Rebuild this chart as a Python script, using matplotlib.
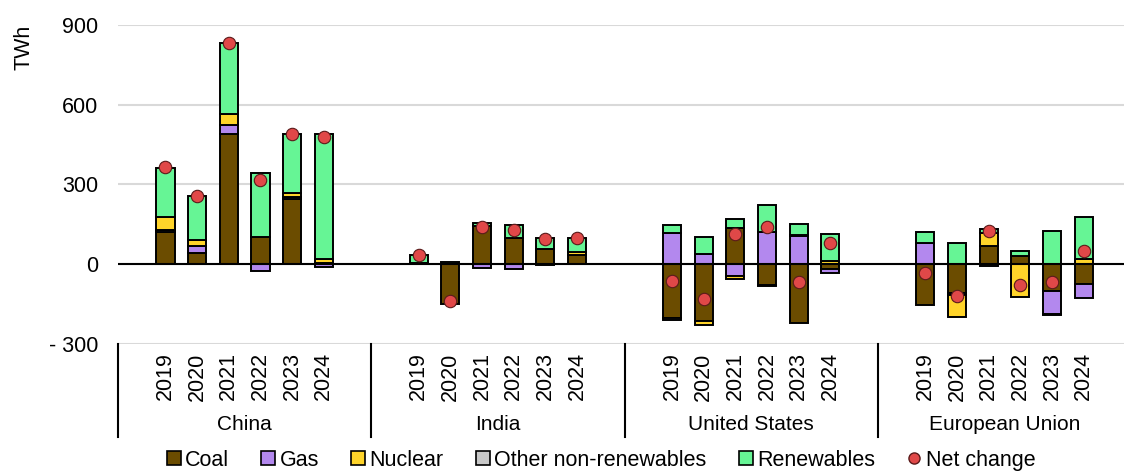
import matplotlib
matplotlib.use("Agg")
import matplotlib.pyplot as plt
import matplotlib.transforms as mtransforms
from matplotlib.patches import Patch
from matplotlib.lines import Line2D
import numpy as np

plt.rcParams['font.family'] = ['Liberation Sans', 'DejaVu Sans']

regions = ['China', 'India', 'United States', 'European Union']
years = ['2019', '2020', '2021', '2022', '2023', '2024']

# TWh change per year, order: China, India, United States, European Union
coal = [121, 42, 490, 104, 244, 4,
        6, -149, 144, 98, 56, 33,
        -203, -213, 136, -78, -220, -18,
        -155, -109, 69, 29, -99, -74]
gas = [6, 28, 33, -27, 10, -12,
       0, 0, -15, -17, -4, 0,
       119, 38, -46, 121, 106, -15,
       79, -5, 0, 0, -88, -54]
nuclear = [52, 20, 41, 0, 12, 17,
           0, 0, 0, 0, 0, 13,
           0, -17, -8, 0, 5, 11,
           0, -85, 50, -124, 0, 20]
other = [0, 0, 0, 0, 0, 0,
         0, 0, 0, 0, 0, 0,
         -5, 0, 0, -5, 0, 0,
         0, 0, -8, 0, -5, 0]
renewables = [184, 168, 268, 238, 225, 467,
              28, 9, 12, 49, 44, 52,
              28, 63, 35, 103, 39, 103,
              41, 81, 14, 19, 125, 158]
net_change = [364, 258, 830, 315, 491, 477,
              34, -140, 139, 128, 94, 99,
              -63, -131, 115, 141, -68, 81,
              -35, -121, 125, -78, -68, 49]

series = [('Coal', coal, '#6b4c00'),
          ('Gas', gas, '#b388ee'),
          ('Nuclear', nuclear, '#ffd42a'),
          ('Other non-renewables', other, '#c8c8c8'),
          ('Renewables', renewables, '#66f595')]

W, H = 1124, 473
fig = plt.figure(figsize=(W / 100, H / 100), dpi=100)
ax_left, ax_bottom, ax_top = 118, 344, 24.7
ax_h = ax_bottom - ax_top
ax = fig.add_axes([ax_left / W, 1 - ax_bottom / H, 1 - ax_left / W, ax_h / H])

# x positions: 8 slots per region, bars in slots 1..6
x = np.array([8 * g + 1 + j for g in range(len(regions)) for j in range(len(years))], dtype=float)
slot_px = 253.3 / 8

pos_base = np.zeros(len(x))
neg_base = np.zeros(len(x))
for name, vals, col in series:
    v = np.array(vals, dtype=float)
    bottom = np.where(v >= 0, pos_base, neg_base)
    ax.bar(x, v, bottom=bottom, width=0.57, color=col, edgecolor='black', linewidth=1.4, zorder=3)
    pos_base += np.where(v > 0, v, 0)
    neg_base += np.where(v < 0, v, 0)

ax.scatter(x, net_change, s=80, color='#e04848', edgecolor='#5a1a1a', linewidth=0.8, zorder=5)

ax.set_ylim(-300, 900)
ax.set_xlim(-0.5, -0.5 + (W - ax_left) / slot_px)
ax.set_yticks([-300, 0, 300, 600, 900])
ax.set_yticklabels(['- 300', '0', '300', '600', '900'], fontsize=15.5)
ax.tick_params(axis='y', length=0, pad=14)
ax.yaxis.grid(True, color='#d9d9d9', linewidth=1.5, zorder=0)
ax.axhline(0, color='black', linewidth=1.5, zorder=4)
for s in ax.spines.values():
    s.set_visible(False)

ax.set_xticks(x)
ax.set_xticklabels(years * len(regions), rotation=90, fontsize=15.5)
ax.tick_params(axis='x', length=0, pad=6)

ax.set_ylabel('TWh', fontsize=15.5)
ax.yaxis.set_label_coords(-0.104, 0.93)
ax.yaxis.label.set_va('top')

trans = mtransforms.blended_transform_factory(ax.transData, ax.transAxes)
sep_depth = (437 - ax_bottom) / ax_h
for g in range(len(regions)):
    ax.plot([8 * g - 0.5, 8 * g - 0.5], [0, -sep_depth], transform=trans,
            color='black', linewidth=1.5, clip_on=False)
    ax.text(8 * g + 3.5, -(424 - ax_bottom) / ax_h, regions[g], transform=trans,
            ha='center', va='center', fontsize=15)

handles = [Patch(facecolor=c, edgecolor='black', linewidth=1.2, label=n) for n, _, c in series]
handles.append(Line2D([], [], marker='o', linestyle='none', markersize=8,
                      markerfacecolor='#e04848', markeredgecolor='#5a1a1a', label='Net change'))
fig.legend(handles=handles, loc='center', bbox_to_anchor=(601 / W, 1 - 460 / H), ncol=6,
           frameon=False, fontsize=15.5, handlelength=0.65, handleheight=0.65,
           handletextpad=0.2, columnspacing=1.5, borderaxespad=0)

fig.savefig('out.png', dpi=100)
